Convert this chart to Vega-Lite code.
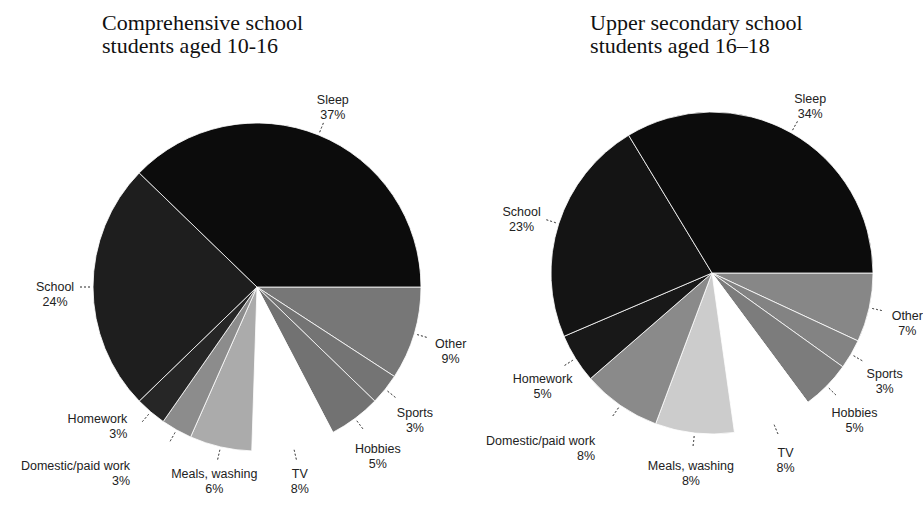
{
  "$schema": "https://vega.github.io/schema/vega-lite/v6.json",
  "background": "white",
  "padding": {"left": 0, "top": 12, "right": 0, "bottom": 0},
  "spacing": 0,
  "bounds": "flush",
  "config": {
    "view": {"stroke": null},
    "title": {"font": "Liberation Serif", "fontSize": 22, "fontWeight": "normal", "color": "#111111", "anchor": "start", "lineHeight": 23, "offset": 6},
    "text": {"font": "Liberation Sans", "fontSize": 12.5, "color": "#222222", "lineHeight": 15, "baseline": "middle"}
  },
  "datasets": {
    "comp": [
      {"activity": "Other", "pct": 9, "color": "#777777"},
      {"activity": "Sports", "pct": 3, "color": "#747474"},
      {"activity": "Hobbies", "pct": 5, "color": "#727272"},
      {"activity": "TV", "pct": 8, "color": "#ffffff"},
      {"activity": "Meals, washing", "pct": 6, "color": "#ababab"},
      {"activity": "Domestic/paid work", "pct": 3, "color": "#8c8c8c"},
      {"activity": "Homework", "pct": 3, "color": "#262626"},
      {"activity": "School", "pct": 24, "color": "#1e1e1e"},
      {"activity": "Sleep", "pct": 37, "color": "#0c0c0c"}
    ],
    "upper": [
      {"activity": "Other", "pct": 7, "color": "#878787"},
      {"activity": "Sports", "pct": 3, "color": "#838383"},
      {"activity": "Hobbies", "pct": 5, "color": "#7c7c7c"},
      {"activity": "TV", "pct": 8, "color": "#ffffff"},
      {"activity": "Meals, washing", "pct": 8, "color": "#cccccc"},
      {"activity": "Domestic/paid work", "pct": 8, "color": "#8a8a8a"},
      {"activity": "Homework", "pct": 5, "color": "#181818"},
      {"activity": "School", "pct": 23, "color": "#141414"},
      {"activity": "Sleep", "pct": 34, "color": "#0c0c0c"}
    ]
  },
  "hconcat": [
    {
      "width": 514,
      "height": 446,
      "title": {"text": ["Comprehensive school", "students aged 10-16"], "dx": 102},
      "data": {"name": "comp"},
      "transform": [
        {"calculate": "indexof(['Other','Sports','Hobbies','TV','Meals, washing','Domestic/paid work','Homework','School','Sleep'], datum.activity)", "as": "k"},
        {"stack": "pct", "groupby": [], "sort": [{"field": "k", "order": "ascending"}], "as": ["t0", "t1"]},
        {"calculate": "(datum.t0 + datum.t1) / 2", "as": "tm"},
        {"calculate": "[datum.activity, datum.pct + '%']", "as": "label"}
      ],
      "layer": [
        {
          "mark": {"type": "arc", "outerRadius": 164, "stroke": "#ffffff", "strokeWidth": 0.8},
          "encoding": {
            "theta": {"field": "t0", "type": "quantitative", "scale": {"range": [1.5707963, 7.8539816], "domain": [0, 98]}},
            "theta2": {"field": "t1"},
            "fill": {"field": "color", "type": "nominal", "scale": null}
          }
        },
        {
          "mark": {"type": "arc", "innerRadius": 166, "outerRadius": 177, "fill": null, "stroke": "#555555", "strokeWidth": 0.8, "strokeDash": [2, 2]},
          "encoding": {
            "theta": {"field": "tm", "type": "quantitative"},
            "theta2": {"field": "tm"}
          }
        },
        {
          "transform": [{"filter": "indexof(['Homework','Domestic/paid work','Meals, washing','TV'], datum.activity) < 0"}],
          "mark": {"type": "text", "radius": 202, "align": "center"},
          "encoding": {"theta": {"field": "tm", "type": "quantitative"}, "text": {"field": "label"}}
        },
        {
          "transform": [{"filter": "datum.activity == 'Meals, washing' || datum.activity == 'TV'"}],
          "mark": {"type": "text", "radius": 192, "align": "center"},
          "encoding": {"theta": {"field": "tm", "type": "quantitative"}, "text": {"field": "label"}}
        },
        {
          "transform": [{"filter": "datum.activity == 'Homework'"}],
          "mark": {"type": "text", "radius": 200, "align": "right", "dy": -20},
          "encoding": {"theta": {"field": "tm", "type": "quantitative"}, "text": {"field": "label"}}
        },
        {
          "transform": [{"filter": "datum.activity == 'Domestic/paid work'"}],
          "mark": {"type": "text", "radius": 222, "align": "right", "dx": -18, "dy": -14},
          "encoding": {"theta": {"field": "tm", "type": "quantitative"}, "text": {"field": "label"}}
        }
      ]
    },
    {
      "width": 396,
      "height": 418,
      "title": {"text": ["Upper secondary school", "students aged 16\u201318"], "dx": 104},
      "data": {"name": "upper"},
      "transform": [
        {"calculate": "indexof(['Other','Sports','Hobbies','TV','Meals, washing','Domestic/paid work','Homework','School','Sleep'], datum.activity)", "as": "k"},
        {"stack": "pct", "groupby": [], "sort": [{"field": "k", "order": "ascending"}], "as": ["t0", "t1"]},
        {"calculate": "(datum.t0 + datum.t1) / 2", "as": "tm"},
        {"calculate": "[datum.activity, datum.pct + '%']", "as": "label"}
      ],
      "layer": [
        {
          "mark": {"type": "arc", "outerRadius": 161, "stroke": "#ffffff", "strokeWidth": 0.8},
          "encoding": {
            "theta": {"field": "t0", "type": "quantitative", "scale": {"range": [1.5707963, 7.8539816], "domain": [0, 101]}},
            "theta2": {"field": "t1"},
            "fill": {"field": "color", "type": "nominal", "scale": null}
          }
        },
        {
          "mark": {"type": "arc", "innerRadius": 163, "outerRadius": 174, "fill": null, "stroke": "#555555", "strokeWidth": 0.8, "strokeDash": [2, 2]},
          "encoding": {
            "theta": {"field": "tm", "type": "quantitative"},
            "theta2": {"field": "tm"}
          }
        },
        {
          "transform": [{"filter": "indexof(['Domestic/paid work','Meals, washing','TV'], datum.activity) < 0"}],
          "mark": {"type": "text", "radius": 200, "align": "center"},
          "encoding": {"theta": {"field": "tm", "type": "quantitative"}, "text": {"field": "label"}}
        },
        {
          "transform": [{"filter": "datum.activity == 'Meals, washing' || datum.activity == 'TV'"}],
          "mark": {"type": "text", "radius": 194, "align": "center"},
          "encoding": {"theta": {"field": "tm", "type": "quantitative"}, "text": {"field": "label"}}
        },
        {
          "transform": [{"filter": "datum.activity == 'Domestic/paid work'"}],
          "mark": {"type": "text", "radius": 205, "align": "right"},
          "encoding": {"theta": {"field": "tm", "type": "quantitative"}, "text": {"field": "label"}}
        }
      ]
    }
  ],
  "resolve": {"scale": {"theta": "independent"}}
}
